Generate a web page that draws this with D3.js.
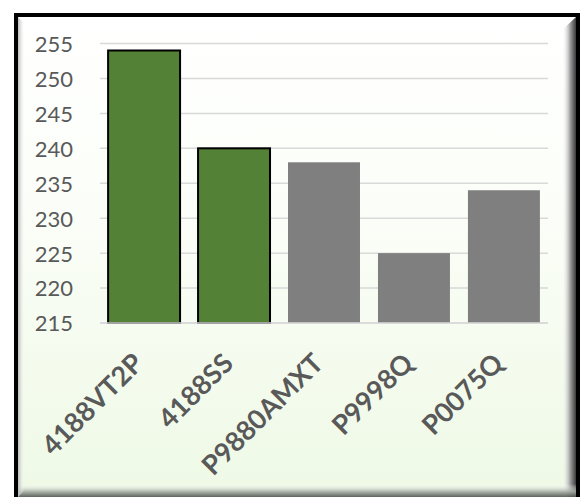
<!DOCTYPE html>
<html><head><meta charset="utf-8">
<script src="https://cdn.jsdelivr.net/npm/d3@7"></script>
<style>body{margin:0;background:#fff}svg{display:block}</style>
</head><body>
<svg id="c" width="587" height="497"></svg>
<script>
const categories = ["4188VT2P","4188SS","P9880AMXT","P9998Q","P0075Q"];
const values = [254,240,238,225,234];
const highlight = [true,true,false,false,false];
const yTicks = [215,220,225,230,235,240,245,250,255];

const svg = d3.select("#c");
const defs = svg.append("defs");
const bg = defs.append("linearGradient").attr("id","bg").attr("x1",0).attr("y1",0).attr("x2",0).attr("y2",1);
bg.append("stop").attr("offset","0%").attr("stop-color","#ffffff");
bg.append("stop").attr("offset","40%").attr("stop-color","#fbfef8");
bg.append("stop").attr("offset","100%").attr("stop-color","#eef9e5");
const rg = defs.append("linearGradient").attr("id","rg").attr("x1",0).attr("y1",0).attr("x2",1).attr("y2",0);
rg.append("stop").attr("offset","0%").attr("stop-color","#ffffff").attr("stop-opacity",0);
rg.append("stop").attr("offset","60%").attr("stop-color","#9a9a9a");
rg.append("stop").attr("offset","100%").attr("stop-color","#3a3a3a");
const bgr = defs.append("linearGradient").attr("id","bgr").attr("x1",0).attr("y1",0).attr("x2",0).attr("y2",1);
bgr.append("stop").attr("offset","0%").attr("stop-color","#ffffff").attr("stop-opacity",0);
bgr.append("stop").attr("offset","60%").attr("stop-color","#a0a8a0");
bgr.append("stop").attr("offset","100%").attr("stop-color","#505550");
const lg = defs.append("linearGradient").attr("id","lg").attr("x1",0).attr("y1",0).attr("x2",1).attr("y2",0);
lg.append("stop").attr("offset","0%").attr("stop-color","#b8bcb8");
lg.append("stop").attr("offset","100%").attr("stop-color","#ffffff").attr("stop-opacity",0);

// frame
svg.append("rect").attr("x",16).attr("y",15).attr("width",562).attr("height",490)
  .attr("fill","url(#bg)").attr("stroke","#000").attr("stroke-width",4);
svg.append("path").attr("d","M562,30 L576,17 L576,497 L562,497 Z").attr("fill","url(#rg)");
svg.append("path").attr("d","M18,484 L576,484 L576,497 L18,497 Z").attr("fill","url(#bgr)").attr("opacity",0.9);
svg.append("path").attr("d","M18,17 L25,24 L25,490 L18,497 Z").attr("fill","url(#lg)");

const x = d3.scaleBand().domain(categories).range([100,548]).paddingInner(0.2).paddingOuter(0.09);
const y = d3.scaleLinear().domain([215,255]).range([323,43.5]);

const g = svg.append("g");
g.selectAll("line.grid").data(yTicks).join("line").attr("class","grid")
  .attr("x1",100).attr("x2",548).attr("y1",d=>y(d)).attr("y2",d=>y(d))
  .attr("stroke","#d9d9d9").attr("stroke-width",1.5);

const yAxis = d3.axisLeft(y).tickValues(yTicks).tickSize(0).tickPadding(0);
const ya = g.append("g").attr("transform","translate(73,0)").call(yAxis);
ya.select(".domain").remove();
ya.selectAll("text").attr("font-family","Lato, 'Open Sans', sans-serif").attr("font-size",22)
  .attr("fill","#595959").attr("dy","0.36em");

g.selectAll("rect.bar").data(categories).join("rect").attr("class","bar")
  .attr("x",d=>x(d)).attr("width",x.bandwidth())
  .attr("y",(d,i)=>y(values[i])).attr("height",(d,i)=>y(215)-y(values[i]))
  .attr("fill",(d,i)=>highlight[i]?"#538135":"#7f7f7f")
  .attr("stroke",(d,i)=>highlight[i]?"#000":"none").attr("stroke-width",2);

g.append("line").attr("x1",100).attr("x2",548).attr("y1",y(215)).attr("y2",y(215))
  .attr("stroke","#d9d9d9").attr("stroke-width",1.5);

const xAxis = d3.axisBottom(x).tickSize(0).tickPadding(0);
const xa = g.append("g").attr("transform","translate(0,338)").call(xAxis);
xa.select(".domain").remove();
xa.selectAll("text").attr("font-family","Lato, 'Open Sans', sans-serif").attr("font-size",27)
  .attr("font-weight","bold").attr("fill","#595959")
  .attr("text-anchor","end").attr("y",0).attr("dy",0).attr("x",0)
  .attr("transform","translate(1,27) rotate(-45)");
</script>
</body></html>
